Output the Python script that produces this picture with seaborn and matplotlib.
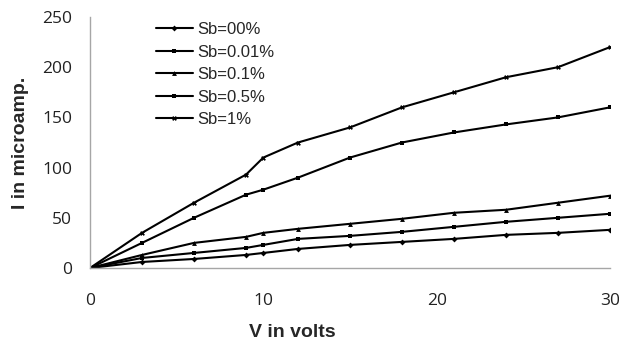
import matplotlib
matplotlib.use("Agg")
import matplotlib.pyplot as plt
import seaborn as sns
import pandas as pd

voltage = [0, 3, 6, 9, 10, 12, 15, 18, 21, 24, 27, 30]
sb_00 = [0, 6, 9, 13, 15, 19, 23, 26, 29, 33, 35, 38]
sb_001 = [0, 10, 15, 20, 23, 29, 32, 36, 41, 46, 50, 54]
sb_01 = [0, 13, 25, 31, 35, 39, 44, 49, 55, 58, 65, 72]
sb_05 = [0, 25, 50, 73, 78, 90, 110, 125, 135, 143, 150, 160]
sb_1 = [0, 35, 65, 93, 110, 125, 140, 160, 175, 190, 200, 220]
labels = ["Sb=00%", "Sb=0.01%", "Sb=0.1%", "Sb=0.5%", "Sb=1%"]
x_ticks = [0, 10, 20, 30]
y_ticks = [0, 50, 100, 150, 200, 250]

series = [sb_00, sb_001, sb_01, sb_05, sb_1]
rows = []
for lab, vals in zip(labels, series):
    for v, i in zip(voltage, vals):
        rows.append({"V": v, "I": i, "Series": lab})
df = pd.DataFrame(rows)

sns.set_style("white")
plt.rcParams["font.family"] = ["Liberation Sans", "DejaVu Sans"]

fig = plt.figure(figsize=(6.19, 3.42), dpi=100)
ax = fig.add_axes([90 / 619, 1 - 268 / 342, 520 / 619, 251 / 342])

markers = {"Sb=00%": "D", "Sb=0.01%": "s", "Sb=0.1%": "^", "Sb=0.5%": "s", "Sb=1%": "X"}
sizes = {"Sb=00%": 3, "Sb=0.01%": 3.5, "Sb=0.1%": 3.5, "Sb=0.5%": 2.5, "Sb=1%": 3.5}
for lab in labels:
    sub = df[df["Series"] == lab]
    sns.lineplot(data=sub, x="V", y="I", ax=ax, color="black", lw=1.5,
                 marker=markers[lab], markersize=sizes[lab], markeredgewidth=0,
                 label=lab)

ax.set_xlim(0, 30)
ax.set_ylim(0, 250)
ax.set_xticks(x_ticks)
ax.set_yticks(y_ticks)
for s in ["top", "right"]:
    ax.spines[s].set_visible(False)
for s in ["left", "bottom"]:
    ax.spines[s].set_color("#a6a6a6")
    ax.spines[s].set_linewidth(1)
ax.tick_params(axis="both", direction="out", length=5, width=1, color="#a6a6a6",
               labelsize=12.5, labelcolor="#222222")
for lbl in ax.get_xticklabels() + ax.get_yticklabels():
    lbl.set_family(["Open Sans", "DejaVu Sans"])
ax.tick_params(axis="x", pad=13)
ax.tick_params(axis="y", pad=8)
ax.set_xlabel("V in volts", fontsize=14, fontweight="bold")
ax.set_ylabel("I in microamp.", fontsize=14, fontweight="bold")
ax.xaxis.set_label_coords(0.39, -0.225)
ax.yaxis.set_label_coords(-0.118, 0.5)

leg = ax.legend(loc="upper left", bbox_to_anchor=(0.127, 0.98), frameon=False,
                fontsize=12, handlelength=2.2, handletextpad=0.25,
                labelspacing=0.45, borderaxespad=0, borderpad=0)

fig.savefig("out.png", dpi=100)
